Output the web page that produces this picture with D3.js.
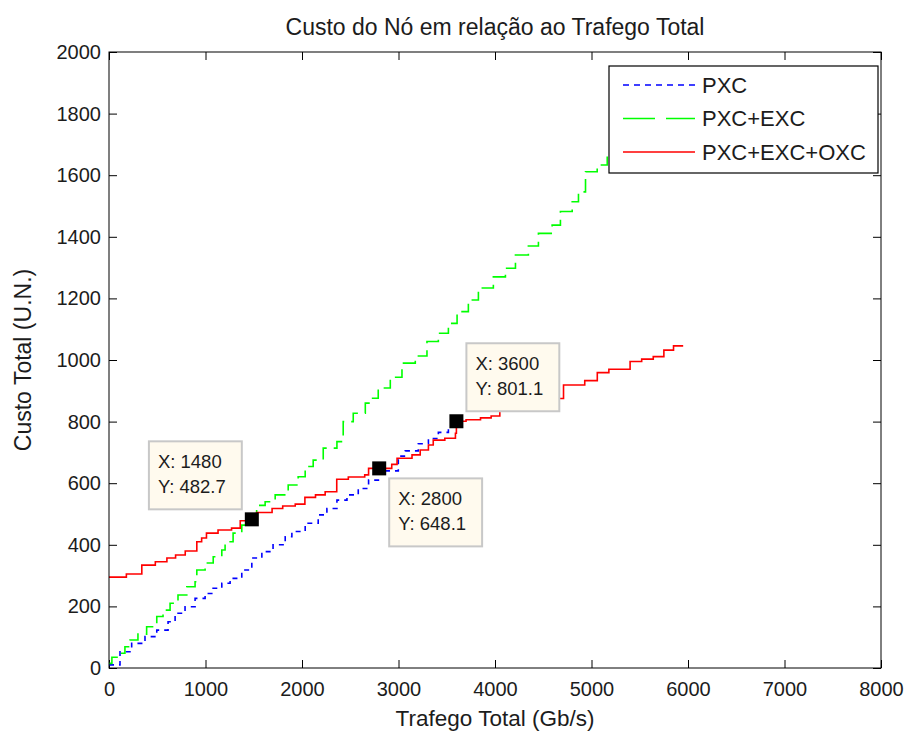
<!DOCTYPE html>
<html>
<head>
<meta charset="utf-8">
<script src="https://cdn.jsdelivr.net/npm/d3@7/dist/d3.min.js"></script>
<style>
  html, body { margin: 0; padding: 0; background: #ffffff; }
  svg { display: block; }
  text { font-family: "Liberation Sans", Arial, sans-serif; fill: #1c1c1c; }
</style>
</head>
<body>
<svg id="chart" width="917" height="731"></svg>
<script>
// Cost of the node versus total traffic, three switching architectures.
const titleText = "Custo do Nó em relação ao Trafego Total";
const xLabelText = "Trafego Total (Gb/s)";
const yLabelText = "Custo Total (U.N.)";

const xTicks = [0, 1000, 2000, 3000, 4000, 5000, 6000, 7000, 8000];
const yTicks = [0, 200, 400, 600, 800, 1000, 1200, 1400, 1600, 1800, 2000];

const seriesNames = ["PXC", "PXC+EXC", "PXC+EXC+OXC"];

// PXC (step values: traffic, cost)
const pxcX = [0, 114, 235, 373, 495, 612, 685, 788, 892, 996, 1065, 1169, 1255, 1376, 1480, 1584, 1700, 1826, 1895, 2033, 2168, 2258, 2362, 2466, 2583, 2690, 2800, 2998, 3070, 3205, 3310, 3413, 3517, 3600];
const pxcY = [10, 53, 80, 102, 123, 150, 178, 199, 226, 242, 259, 275, 291, 318, 357, 378, 400, 426, 443, 470, 497, 518, 545, 562, 583, 610, 640, 688, 705, 728, 745, 765, 785, 801.1];

// PXC+EXC
const exX = [0, 30, 95, 165, 218, 300, 390, 495, 560, 633, 715, 806, 892, 910, 996, 1080, 1169, 1203, 1286, 1376, 1480, 1530, 1618, 1722, 1857, 1960, 2033, 2116, 2220, 2362, 2427, 2531, 2656, 2707, 2790, 2915, 3036, 3174, 3295, 3413, 3517, 3607, 3724, 3828, 3983, 4108, 4212, 4346, 4450, 4592, 4678, 4800, 4865, 4938, 5059, 5163, 5300, 5450, 5600, 5750, 5900];
const exY = [15, 35, 48, 69, 91, 110, 134, 167, 188, 210, 237, 264, 280, 318, 341, 361, 383, 410, 438, 464, 482.7, 528, 540, 562, 594, 621, 654, 675, 714, 735, 800, 827, 860, 876, 909, 944, 990, 1013, 1060, 1087, 1119, 1157, 1195, 1234, 1270, 1298, 1341, 1370, 1411, 1438, 1482, 1514, 1546, 1611, 1633, 1669, 1700, 1740, 1780, 1820, 1860];

// PXC+EXC+OXC
const oxX = [0, 180, 340, 480, 600, 690, 790, 910, 960, 1010, 1130, 1270, 1360, 1480, 1530, 1690, 1800, 1930, 2030, 2140, 2240, 2360, 2480, 2650, 2690, 2930, 2985, 3140, 3225, 3310, 3360, 3480, 3590, 3600, 3700, 3850, 3960, 4050, 4200, 4400, 4560, 4710, 4930, 5060, 5180, 5400, 5520, 5640, 5750, 5850, 5950];
const oxY = [295, 305, 334, 345, 357, 367, 380, 410, 422, 438, 448, 454, 478, 482.7, 505, 518, 526, 532, 554, 562, 572, 613, 620, 627, 648.1, 661, 681, 692, 708, 724, 740, 746, 762, 801.1, 806, 812, 818, 836, 845, 860, 875, 919, 933, 959, 970, 995, 1003, 1011, 1032, 1046, 1046];

// Data cursors
const tipX = [1480, 2800, 3600];
const tipY = [482.7, 648.1, 801.1];

const svg = d3.select("#chart");
const W = 917, H = 731;
const m = { left: 109, right: 36, top: 52, bottom: 63 };
const pw = W - m.left - m.right, ph = H - m.top - m.bottom;

const x = d3.scaleLinear().domain([0, 8000]).range([m.left, m.left + pw]);
const y = d3.scaleLinear().domain([0, 2000]).range([m.top + ph, m.top]);

svg.append("rect").attr("width", W).attr("height", H).attr("fill", "#ffffff");

// axes with inward ticks on all four sides
const tickLen = 8;
const gx = svg.append("g").attr("transform", `translate(0,${m.top + ph})`)
  .call(d3.axisBottom(x).tickValues(xTicks).tickSizeInner(-tickLen).tickSizeOuter(0).tickPadding(14).tickFormat(d3.format("d")));
const gxt = svg.append("g").attr("transform", `translate(0,${m.top})`)
  .call(d3.axisTop(x).tickValues(xTicks).tickSizeInner(-tickLen).tickSizeOuter(0).tickFormat(""));
const gy = svg.append("g").attr("transform", `translate(${m.left},0)`)
  .call(d3.axisLeft(y).tickValues(yTicks).tickSizeInner(-tickLen).tickSizeOuter(0).tickPadding(8).tickFormat(d3.format("d")));
const gyr = svg.append("g").attr("transform", `translate(${m.left + pw},0)`)
  .call(d3.axisRight(y).tickValues(yTicks).tickSizeInner(-tickLen).tickSizeOuter(0).tickFormat(""));

[gx, gxt, gy, gyr].forEach(g => {
  g.select(".domain").remove();
  g.selectAll(".tick line").attr("stroke", "#000").attr("stroke-width", 1);
  g.selectAll(".tick text").attr("font-size", 20).attr("fill", "#1c1c1c")
    .attr("font-family", "\"Liberation Sans\", Arial, sans-serif");
});

const clipId = "plotclip";
svg.append("clipPath").attr("id", clipId).append("rect")
  .attr("x", m.left).attr("y", m.top).attr("width", pw).attr("height", ph);

const line = d3.line().x(d => x(d[0])).y(d => y(d[1])).curve(d3.curveStepAfter);
const zip = (a, b) => a.map((v, i) => [v, b[i]]);

const series = [
  { name: seriesNames[0], data: zip(pxcX, pxcY), color: "#0000ff", dash: "5,5", legendDash: "6,5" },
  { name: seriesNames[1], data: zip(exX, exY), color: "#00ff00", dash: "15,7", legendDash: "32,11" },
  { name: seriesNames[2], data: zip(oxX, oxY), color: "#ff0000", dash: null, legendDash: null }
];

const plot = svg.append("g").attr("clip-path", `url(#${clipId})`);
series.forEach(s => {
  plot.append("path").datum(s.data)
    .attr("fill", "none").attr("stroke", s.color).attr("stroke-width", 1.6)
    .attr("stroke-dasharray", s.dash).attr("d", line);
});

// plot box
svg.append("rect").attr("x", m.left).attr("y", m.top).attr("width", pw).attr("height", ph)
  .attr("fill", "none").attr("stroke", "#000").attr("stroke-width", 1);

// data cursor markers and tips
const tipPlace = [["left", "up"], ["right", "down"], ["right", "up"]];
tipX.forEach((tx, i) => {
  const cx = x(tx), cy = y(tipY[i]);
  svg.append("rect").attr("x", cx - 7).attr("y", cy - 7).attr("width", 14).attr("height", 14)
    .attr("fill", "#000");
  const g = svg.append("g");
  const box = g.append("rect").attr("fill", "#fffaee").attr("stroke", "#c8c8c8").attr("stroke-width", 2);
  const t1 = g.append("text").attr("font-size", 18.5).text(`X: ${tx}`);
  const t2 = g.append("text").attr("font-size", 18.5).text(`Y: ${d3.format(".1f")(tipY[i])}`);
  const tw = Math.max(t1.node().getComputedTextLength(), t2.node().getComputedTextLength());
  const bw = tw + 25, bh = 68, off = 10;
  const bx = tipPlace[i][0] === "left" ? cx - off - bw : cx + off;
  const by = tipPlace[i][1] === "up" ? cy - off - bh : cy + off;
  box.attr("x", bx).attr("y", by).attr("width", bw).attr("height", bh);
  t1.attr("x", bx + 9).attr("y", by + 27);
  t2.attr("x", bx + 9).attr("y", by + 52);
});

// legend
const lg = svg.append("g");
const lx = 609, ly = 66, lw = 269, lh = 107;
lg.append("rect").attr("x", lx).attr("y", ly).attr("width", lw).attr("height", lh)
  .attr("fill", "#fff").attr("stroke", "#000").attr("stroke-width", 1.2);
series.forEach((s, i) => {
  const yy = ly + 19 + i * 33.5;
  lg.append("line").attr("x1", lx + 14).attr("x2", lx + 86).attr("y1", yy).attr("y2", yy)
    .attr("stroke", s.color).attr("stroke-width", 1.6).attr("stroke-dasharray", s.legendDash);
  lg.append("text").attr("x", lx + 93).attr("y", yy).attr("dy", "0.36em")
    .attr("font-size", 22).text(s.name);
});

// titles
svg.append("text").attr("x", m.left + pw / 2).attr("y", 35).attr("text-anchor", "middle")
  .attr("font-size", 23).text(titleText);
svg.append("text").attr("x", m.left + pw / 2).attr("y", 726).attr("text-anchor", "middle")
  .attr("font-size", 22.5).text(xLabelText);
svg.append("text").attr("transform", `translate(31,${m.top + ph / 2}) rotate(-90)`)
  .attr("text-anchor", "middle").attr("font-size", 23).text(yLabelText);
</script>
</body>
</html>
